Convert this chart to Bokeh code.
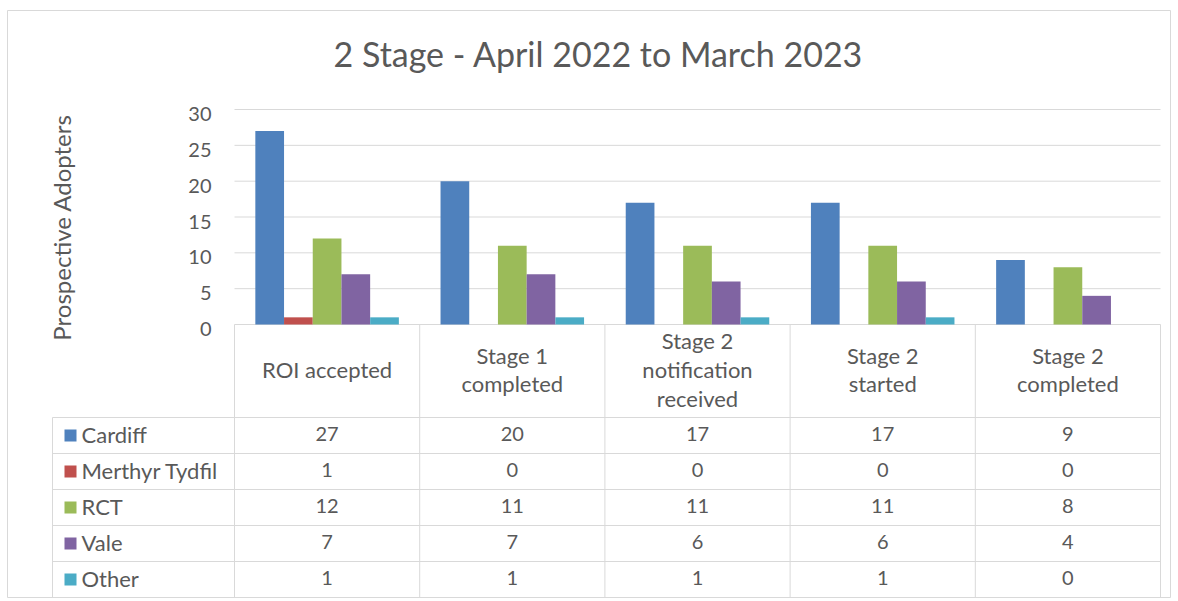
import math
from bokeh.plotting import figure
from bokeh.models import Range1d
from bokeh.core.properties import value
from bokeh.embed import file_html
from bokeh.resources import INLINE

# ---------------- data ----------------
categories = ["ROI accepted", "Stage 1\ncompleted", "Stage 2\nnotification\nreceived",
              "Stage 2\nstarted", "Stage 2\ncompleted"]
series_names = ["Cardiff", "Merthyr Tydfil", "RCT", "Vale", "Other"]
cardiff = [27, 20, 17, 17, 9]
merthyr_tydfil = [1, 0, 0, 0, 0]
rct = [12, 11, 11, 11, 8]
vale = [7, 7, 6, 6, 4]
other = [1, 1, 1, 1, 0]
y_ticks = [0, 5, 10, 15, 20, 25, 30]
title_text = "2 Stage - April 2022 to March 2023"
y_label = "Prospective Adopters"
colors = ["#4F81BD", "#C0504D", "#9BBB59", "#8064A2", "#4BACC6"]

series = [cardiff, merthyr_tydfil, rct, vale, other]

# ---------------- geometry (canvas px) ----------------
W, H = 1171, 598
LEFT, TOP = 7, 10
CAT_PX = 185.2          # px per category
X0 = 234                # x of category 0 start
Y0 = 324                # y of value 0
UNIT = 35.83 / 5        # px per value unit
ROW = 36                # table row height (px)
TBL_BOTTOM = 597

def px_to_x(cx):
    return (cx - X0) / CAT_PX

def py_to_v(py):
    return (Y0 - py) / UNIT

def py_to_t(py):
    return (TBL_BOTTOM - py) / ROW

x_start, x_end = px_to_x(LEFT), px_to_x(W)
y_start, y_end = py_to_v(H), py_to_v(TOP)
t_start, t_end = py_to_t(H), py_to_t(TOP)
hdr_top = py_to_t(Y0)
n_rows = len(series_names)
ncat = len(categories)

FONT = value("Lato")
TXT = "#595959"
LINE = "#d9d9d9"

p = figure(width=W, height=H, x_range=Range1d(x_start, x_end), y_range=Range1d(y_start, y_end),
           output_backend="svg", toolbar_location=None,
           x_axis_location=None, y_axis_location=None,
           min_border_left=LEFT, min_border_right=0, min_border_bottom=0, min_border_top=TOP)
p.extra_y_ranges = {"tbl": Range1d(t_start, t_end)}
p.xgrid.visible = False
p.ygrid.visible = False
p.outline_line_color = LINE
p.outline_line_width = 1
p.background_fill_color = "white"
p.border_fill_color = "white"

# gridlines
p.segment(x0=[0] * len(y_ticks), x1=[ncat] * len(y_ticks), y0=y_ticks, y1=y_ticks,
          line_color=LINE, line_width=1)

# bars
bw = 0.155
for k, (name, vals, col) in enumerate(zip(series_names, series, colors)):
    xs = [i + 0.5 + (k - 2) * bw for i in range(ncat)]
    p.vbar(x=xs, top=vals, bottom=0, width=bw, fill_color=col, line_color=None)

# y tick labels
p.text(x=[px_to_x(211)] * len(y_ticks), y=y_ticks, text=[str(t) for t in y_ticks],
       text_font=FONT, text_font_size="20px", text_color=TXT,
       text_align="right", text_baseline="middle", y_offset=4.5)

# title
p.text(x=[px_to_x(598)], y=[py_to_v(53)], text=[title_text], text_font=FONT,
       text_font_size="34px", text_color=TXT, text_align="center", text_baseline="middle")

# y axis label
p.text(x=[px_to_x(61)], y=[py_to_v(227)], text=[y_label], angle=math.pi / 2, text_font=FONT,
       text_font_size="24px", text_color=TXT, text_align="center", text_baseline="middle")

# ---------------- data table ----------------
leg_left = px_to_x(52)
p.segment(x0=[leg_left] * (n_rows + 1), x1=[ncat] * (n_rows + 1),
          y0=list(range(n_rows + 1)), y1=list(range(n_rows + 1)),
          line_color=LINE, line_width=1, y_range_name="tbl")
p.segment(x0=list(range(ncat + 1)), x1=list(range(ncat + 1)),
          y0=[0] * (ncat + 1), y1=[hdr_top] * (ncat + 1),
          line_color=LINE, line_width=1, y_range_name="tbl")
p.segment(x0=[leg_left], x1=[leg_left], y0=[0], y1=[n_rows],
          line_color=LINE, line_width=1, y_range_name="tbl")

# header labels
p.text(x=[i + 0.5 for i in range(ncat)], y=[(n_rows + hdr_top) / 2] * ncat, text=categories,
       text_font=FONT, text_font_size="22px", text_color=TXT, text_align="center",
       text_baseline="middle", text_line_height=1.064, y_offset=-1.5, y_range_name="tbl")

# rows
for k, (name, vals, col) in enumerate(zip(series_names, series, colors)):
    yc = n_rows - k - 0.5
    p.scatter(x=[px_to_x(70)], y=[yc], marker="square", size=12, fill_color=col,
              line_color=None, y_range_name="tbl")
    p.text(x=[px_to_x(81)], y=[yc], text=[name], text_font=FONT, text_font_size="22px",
           text_color=TXT, text_align="left", text_baseline="middle", y_offset=-1.5,
           y_range_name="tbl")
    p.text(x=[i + 0.5 for i in range(ncat)], y=[yc] * ncat, text=[str(v) for v in vals],
           text_font=FONT, text_font_size="20px", text_color=TXT, text_align="center",
           text_baseline="middle", y_offset=-1.5, y_range_name="tbl")

open("out.html", "w").write(file_html(p, INLINE))
